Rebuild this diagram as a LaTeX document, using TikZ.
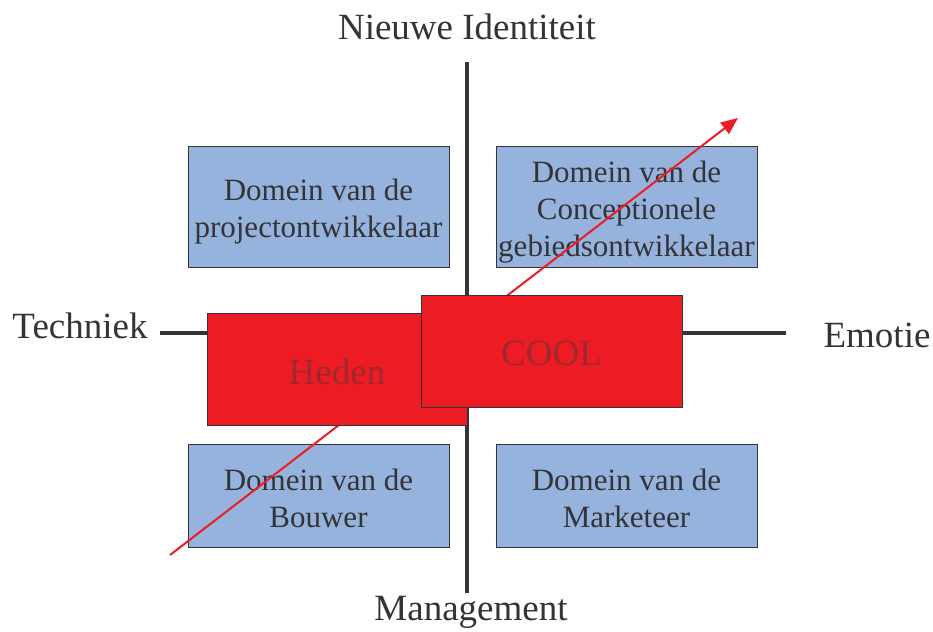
\documentclass[tikz,border=0pt]{standalone}
\usepackage{fontspec}
\setmainfont{Liberation Serif}
\usetikzlibrary{arrows.meta}
\definecolor{axisgray}{HTML}{333338}
\definecolor{boxblue}{HTML}{95B3DC}
\definecolor{boxred}{HTML}{ED1C24}
\definecolor{txtred}{HTML}{A0282E}
\newcommand{\boxtext}[2]{\raisebox{-#1pt}[\height][\depth]{\begin{tabular}{@{}c@{}}#2\end{tabular}}}
\tikzset{
  axisline/.style={draw=axisgray, line width=4pt},
  bluebox/.style={draw=axisgray, line width=0.8pt, fill=boxblue, inner sep=0pt,
    minimum width=261pt, text=axisgray, font=\fontsize{31}{37}\selectfont},
  redbox/.style={draw=axisgray, line width=0.8pt, fill=boxred, inner sep=0pt,
    minimum width=261pt, text=txtred, font=\fontsize{37}{44}\selectfont},
  outlabel/.style={text=axisgray, font=\fontsize{37}{44}\selectfont, inner sep=0pt},
  redarrow/.style={draw=boxred, line width=2pt, -{Triangle[length=17pt,width=14pt]}}
}
\begin{document}
\begin{tikzpicture}[x=1pt,y=-1pt]
\useasboundingbox (0,0) rectangle (933,631);
% axes
\coordinate (vtop) at (467,62);
\coordinate (vbot) at (467,593);
\coordinate (hleft) at (160,333);
\coordinate (hright) at (786,333);
\draw[axisline] (vtop) -- (vbot);
\draw[axisline] (hleft) -- (hright);
% labels
\node[outlabel] (nieuw) at (467,27) {Nieuwe Identiteit};
\node[outlabel] (mgmt) at (471,612) {Management};
\node[outlabel] (tech) at (80,326) {Techniek};
\node[outlabel] (emo) at (877,335) {Emotie};
% blue boxes
\node[bluebox, minimum height=121pt] (tl) at (318.5,206.5) {\boxtext{5}{Domein van de\\projectontwikkelaar}};
\node[bluebox, minimum height=121pt] (tr) at (626.5,206.5) {\boxtext{6}{Domein van de\\Conceptionele\\gebiedsontwikkelaar}};
\node[bluebox, minimum height=103pt] (bl) at (318.5,495.5) {\boxtext{6}{Domein van de\\Bouwer}};
\node[bluebox, minimum height=103pt] (br) at (626.5,495.5) {\boxtext{6}{Domein van de\\Marketeer}};
% arrow
\coordinate (astart) at (170,555);
\coordinate (aend) at (738,118);
\draw[redarrow] (astart) -- (aend);
% red boxes
\node[redbox, minimum width=260pt, minimum height=112pt] (heden) at (337,369.5) {\raisebox{-2pt}[\height][\depth]{Heden}};
\node[redbox, minimum height=112pt] (cool) at (551.5,351.5) {\raisebox{-2pt}[\height][\depth]{COOL}};
\end{tikzpicture}
\end{document}
